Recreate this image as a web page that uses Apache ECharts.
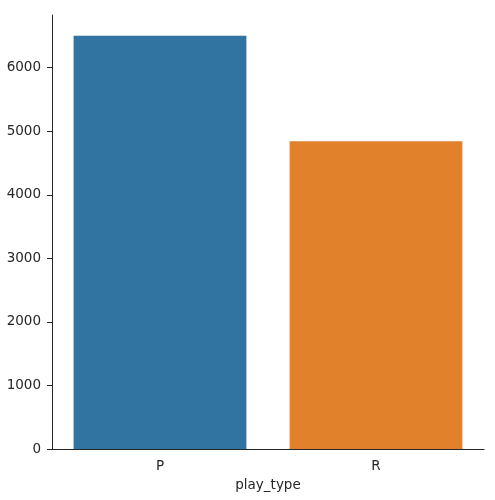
<!DOCTYPE html>
<html><head><meta charset="utf-8">
<script src="https://cdn.jsdelivr.net/npm/echarts@6/dist/echarts.min.js"></script>
<style>html,body{margin:0;padding:0;background:#fff}#c{width:495px;height:500px}</style>
</head><body><div id="c"></div>
<script>
const categories = ['P', 'R'];
const counts = [6503, 4843];
const barColors = ['#3274a1', '#e1812c'];
const yTicks = [0, 1000, 2000, 3000, 4000, 5000, 6000];
const xTitle = 'play_type';

const chart = echarts.init(document.getElementById('c'));
const font = 'DejaVu Sans';
chart.setOption({
  animation: false,
  grid: {left: 52, right: 11, top: 15, bottom: 51, containLabel: false},
  xAxis: {
    type: 'category', data: categories, boundaryGap: true,
    name: xTitle, nameLocation: 'middle', nameGap: 29,
    nameTextStyle: {fontFamily: font, fontSize: 13.5, color: '#262626'},
    axisLine: {lineStyle: {color: '#262626', width: 1}},
    axisTick: {alignWithLabel: true, length: 5, lineStyle: {color: '#262626'}},
    axisLabel: {fontFamily: font, fontSize: 13.5, color: '#262626', margin: 10}
  },
  yAxis: {
    type: 'value', min: 0, max: 6828, interval: 1000,
    splitLine: {show: false},
    axisLine: {show: true, lineStyle: {color: '#262626', width: 1}},
    axisTick: {show: true, length: 5, lineStyle: {color: '#262626'}, customValues: yTicks},
    axisLabel: {fontFamily: font, fontSize: 13.5, color: '#262626', margin: 11, customValues: yTicks,
      formatter: v => String(v)}
  },
  series: [{
    type: 'bar', barWidth: '80%',
    data: counts.map((v, i) => ({value: v, itemStyle: {color: barColors[i]}}))
  }]
});
</script></body></html>
